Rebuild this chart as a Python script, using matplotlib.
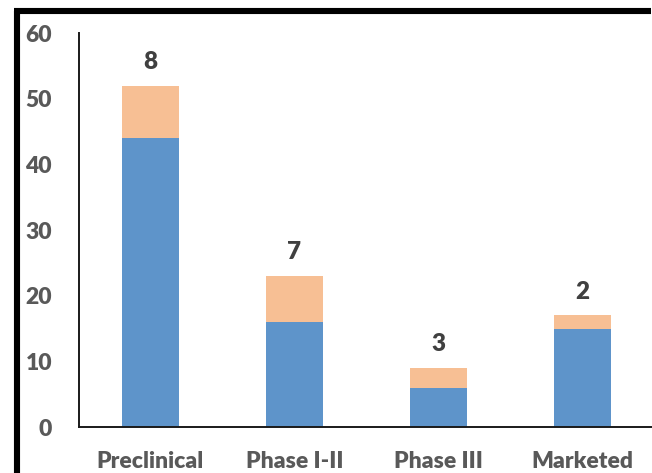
import matplotlib
matplotlib.use("Agg")
import matplotlib.pyplot as plt
from matplotlib.lines import Line2D

# Data
categories = ["Preclinical", "Phase I-II", "Phase III", "Marketed"]
base_values = [44, 16, 6, 15]
added_values = [8, 7, 3, 2]
yticks = [0, 10, 20, 30, 40, 50, 60]

blue = "#5E94CA"
orange = "#F7BF94"
tick_gray = "#595959"
label_gray = "#404040"

plt.rcParams["font.family"] = ["Lato", "DejaVu Sans"]

W, H = 652, 473
left_px, right_px = 78.5, 652.0
zero_px, top_px = 427.0, 33.0
slot_px = 144.0

fig = plt.figure(figsize=(W / 100, H / 100), dpi=100)
ax = fig.add_axes([left_px / W, 1 - zero_px / H, (right_px - left_px) / W,
                   (zero_px - top_px) / H])

x = list(range(len(categories)))
totals = [b + a for b, a in zip(base_values, added_values)]
ax.bar(x, base_values, width=0.4, color=blue, zorder=2)
ax.bar(x, added_values, width=0.4, bottom=base_values, color=orange, zorder=2)

for xi, tot, add in zip(x, totals, added_values):
    ax.annotate(str(add), xy=(xi, tot), xytext=(0, 12), textcoords="offset points",
                ha="center", va="baseline", fontsize=17.5, fontweight="heavy",
                color=label_gray)

ax.set_xlim(-0.5, -0.5 + (right_px - left_px) / slot_px)
ax.set_ylim(0, 60)
ax.set_yticks(yticks)
ax.set_xticks(x)
ax.set_xticklabels(categories)

for lab in ax.get_xticklabels() + ax.get_yticklabels():
    lab.set_fontsize(16.5)
    lab.set_fontweight("heavy")
    lab.set_color(tick_gray)

ax.tick_params(axis="x", length=0, pad=17)
ax.tick_params(axis="y", length=0, pad=19)

for side in ("top", "right"):
    ax.spines[side].set_visible(False)
for side in ("left", "bottom"):
    ax.spines[side].set_linewidth(1.4)
    ax.spines[side].set_color("#1a1a1a")

# Outer frame lines (top and left) around the chart area
fx = 17 / W
fy = 1 - 11.5 / H
half = 2.2 / 72 * 100
fig.add_artist(Line2D([fx - half / W, 0.999], [fy, fy], transform=fig.transFigure,
                      color="black", linewidth=4.4, solid_capstyle="butt"))
fig.add_artist(Line2D([fx, fx], [fy, 0.001], transform=fig.transFigure,
                      color="black", linewidth=4.4, solid_capstyle="butt"))

fig.savefig("out.png", dpi=100)
